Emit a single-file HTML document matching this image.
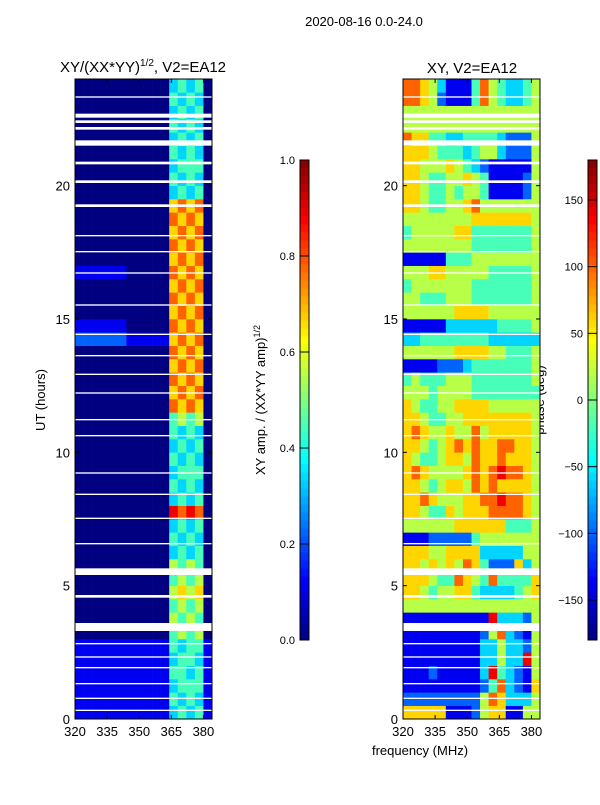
<!DOCTYPE html>
<html><head><meta charset="utf-8">
<style>
body{margin:0;background:#fff;width:600px;height:800px;overflow:hidden;font-family:"Liberation Sans",sans-serif;}
svg text{font-family:"Liberation Sans",sans-serif;fill:#000;}
</style></head><body>
<svg id="s" width="600" height="800">
<text x="364" y="26" font-size="13" text-anchor="middle">2020-08-16 0.0-24.0</text>
<text x="143" y="72" font-size="15" text-anchor="middle">XY/(XX*YY)<tspan font-size="10" dy="-6">1/2</tspan><tspan dy="6">, V2=EA12</tspan></text>
<text x="472" y="73" font-size="15" text-anchor="middle">XY, V2=EA12</text>
<text transform="translate(45,400) rotate(-90)" font-size="13" text-anchor="middle">UT (hours)</text>
<text x="420" y="755" font-size="13" text-anchor="middle">frequency (MHz)</text>
<text transform="translate(265,400) rotate(-90)" font-size="13" text-anchor="middle">XY amp. / (XX*YY amp)<tspan font-size="9" dy="-5">1/2</tspan></text>
<text transform="translate(544,400) rotate(-90)" font-size="13" text-anchor="middle">phase (deg)</text>
<g id="gl"></g><g id="gr"></g><g id="cb"></g>
</svg>
<script>
const tMin=0,tMax=24,fMin=320,fMax=384;
const fTicks=[320,335,350,365,380];
const tTicks=[0,5,10,15,20];
const ampTicks=[0.0,0.2,0.4,0.6,0.8,1.0];
const phaseTicks=[-150,-100,-50,0,50,100,150];
// amplitude grid: 48 rows (0.5 h, row 0 = 0h), 16 columns (4 MHz); digit/9
const ampRows=["1111111111134341","1111111111143431","1111111111134441","1111111111144341","1111111111134431","1111111111143441","0000000000045450","0000000000054540",
"0000000000045450","0000000000056560","0000000000045450","0000000000054540","0000000000034340","0000000000043430","0000000000034340","0000000000087870",
"0000000000034340","0000000000043430","0000000000034440","0000000000043430","0000000000034340","0000000000043430","0000000000045450","0000000000076760",
"0000000000067670","0000000000076760","0000000000067670","0000000000076760","2222221111167670","1111110000076760","0000000000067670","0000000000076760",
"0000000000067670","1111110000076760","0000000000067670","0000000000076760","0000000000067670","0000000000076760","0000000000067670","0000000000034340",
"0000000000043430","0000000000034440","0000000000043430","0000000000034340","0000000000043430","0000000000034340","0000000000043430","0000000000034340"];
// phase grid: digit d -> -180 + d*40
const phaseRows=["6666611125661155","2222222225763335","1111111112473216","1112111113843215","1111111113353385","1111111113353325","1111111112573215","1111111111833325",
"5555555555555555","6654556643333456","6665447654744446","6656565764222635","6665566663333355","1112222245555555","5555556666664445","6654465666777765",
"6676555667787765","6654566576766665","6765555676787765","6544566576676665","6654567676677665","6765565575666665","6654455666666665","6544556666555555",
"5554555544444444","4544455544444445","1111222344444445","5555556666554445","3344444444333333","1111133333344445","5555556666555555","5544455544444445",
"4555555544444445","5556655555444445","1111144455555555","5555555544444445","4555556644444445","5555555566666665","6654455675555555","6654454554111125",
"6654455654111125","6655565432111115","6665444345532225","7664433444432225","5555555555555555","5555555555555555","7765211147543345","7765311147543345"];
// data gaps in hours [start,end]
const gaps=[[0.3,0.35],[0.75,0.8],[1.3,1.35],[1.9,1.95],[2.3,2.35],[2.8,2.85],[3.3,3.6],[4.55,4.65],[5.4,5.65],[6.55,6.6],[7.5,7.55],[8.4,8.45],[9.2,9.25],[10.6,10.65],[11.2,11.25],[12.2,12.25],[12.9,12.95],[13.6,13.65],[14.4,14.45],[15.5,15.55],[16.7,16.75],[17.5,17.55],[18.1,18.15],[19.2,19.3],[20.1,20.2],[20.8,20.9],[21.5,21.7],[22.1,22.2],[22.35,22.45],[22.55,22.7],[23.3,23.35]];
const L={x0:75,x1:212},R={x0:403,x1:540},Y0=719,Y1=79;
const NS='http://www.w3.org/2000/svg';
function xs(p,f){return p.x0+(f-fMin)/(fMax-fMin)*(p.x1-p.x0);}
function ys(t){return Y0-(t-tMin)/(tMax-tMin)*(Y0-Y1);}
function jet(v){v=Math.max(0,Math.min(1,v));
 const c=x=>Math.round(255*Math.max(0,Math.min(1,1.5-Math.abs(4*v-x))));
 return `rgb(${c(3)},${c(2)},${c(1)})`;}
function mk(tag,at,par){const e=document.createElementNS(NS,tag);for(const k in at)e.setAttribute(k,at[k]);par.appendChild(e);return e;}
function panel(g,p,rows,conv,nm){
 const nr=rows.length,nc=rows[0].length,dt=(tMax-tMin)/nr,df=(fMax-fMin)/nc;
 rows.forEach((r,i)=>{for(let j=0;j<nc;j++){
  const x=xs(p,fMin+j*df),x2=xs(p,fMin+(j+1)*df),y=ys(tMin+(i+1)*dt),y2=ys(tMin+i*dt);
  const e=mk('rect',{x:x,y:y,width:x2-x+0.3,height:y2-y+0.3,fill:jet(conv(+r[j]))},g);
  
  
 }});
 gaps.forEach(gp=>{const e=mk('rect',{x:p.x0,y:ys(gp[1]),width:p.x1-p.x0,height:ys(gp[0])-ys(gp[1]),fill:'#fff'},g);
  
  });
 const fr=mk('rect',{x:p.x0,y:Y1,width:p.x1-p.x0,height:Y0-Y1,fill:'none',stroke:'#000','stroke-width':1},g);
 
 
 fTicks.forEach(f=>{const x=xs(p,f);mk('line',{x1:x,x2:x,y1:Y0,y2:Y0-4,stroke:'#000'},g);mk('line',{x1:x,x2:x,y1:Y1,y2:Y1+4,stroke:'#000'},g);
  const t=mk('text',{x:x,y:Y0+17,'font-size':13,'text-anchor':'middle'},g);t.textContent=f;
  
  });
 tTicks.forEach(v=>{const y=ys(v);mk('line',{x1:p.x0,x2:p.x0+4,y1:y,y2:y,stroke:'#000'},g);mk('line',{x1:p.x1,x2:p.x1-4,y1:y,y2:y,stroke:'#000'},g);
  const t=mk('text',{x:p.x0-5,y:y+5,'font-size':13,'text-anchor':'end'},g);t.textContent=v;
  
  });
}
panel(document.getElementById('gl'),L,ampRows,d=>d/9,'amp');
panel(document.getElementById('gr'),R,phaseRows,d=>d*40/360,'phase');
function cbar(x,lo,hi,ticks,fmt,nm){
 const g=document.getElementById('cb'),top=160,bot=640,w=9,n=60;
 for(let i=0;i<n;i++){const e=mk('rect',{x:x,y:bot-(i+1)*(bot-top)/n,width:w,height:(bot-top)/n+0.5,fill:jet((i+0.5)/n)},g);
  
  }
 mk('rect',{x:x,y:top,width:w,height:bot-top,fill:'none',stroke:'#000'},g);
 ticks.forEach(v=>{const y=bot-(v-lo)/(hi-lo)*(bot-top);mk('line',{x1:x,x2:x+w,y1:y,y2:y,stroke:'#000'},g);
  const t=mk('text',{x:x-5,y:y+4,'font-size':11,'text-anchor':'end'},g);t.textContent=fmt(v);
  
  });
}
cbar(300,0,1,ampTicks,v=>v.toFixed(1),'amp');
cbar(588,-180,180,phaseTicks,v=>v<0?'\u2212'+(-v):''+v,'phase');
</script>
</body></html>
